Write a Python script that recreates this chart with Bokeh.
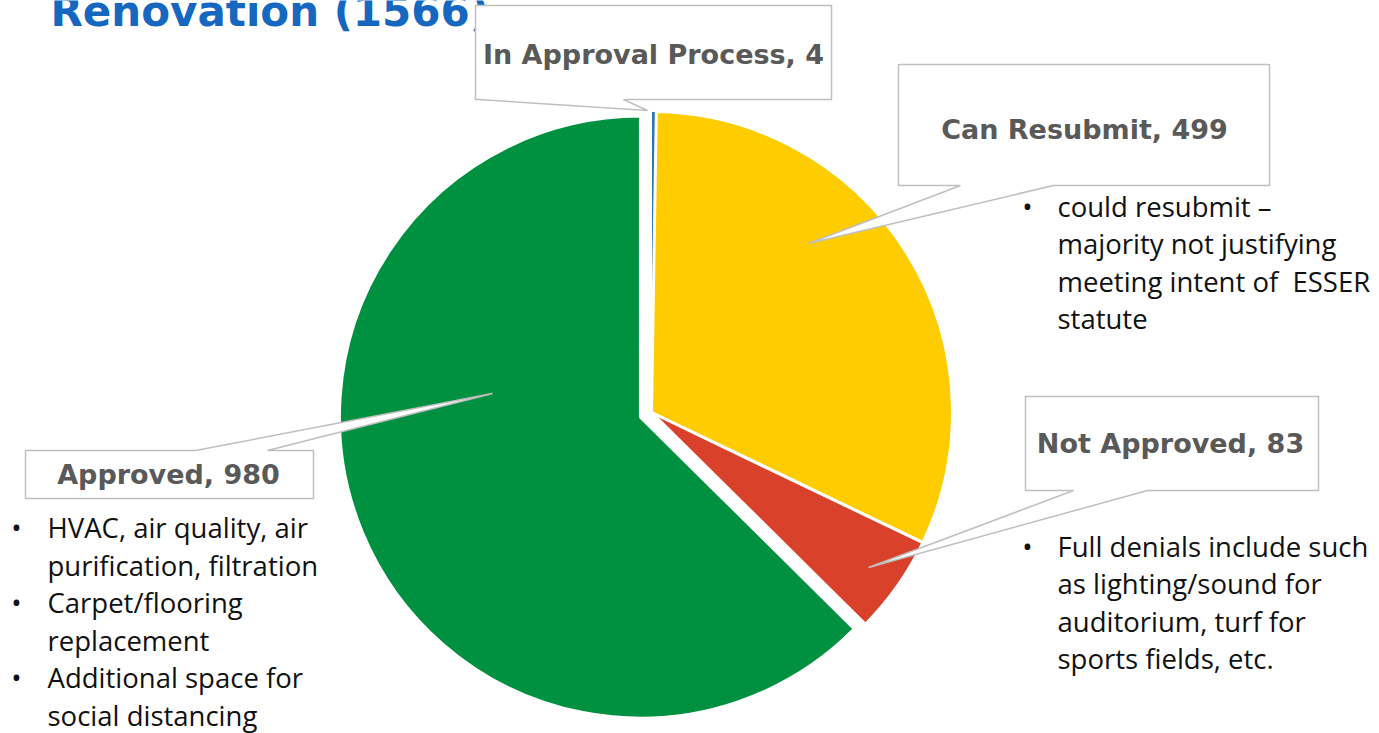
import numpy as np
from bokeh.plotting import figure
from bokeh.models import Range1d, ColumnDataSource
from bokeh.core.properties import value
from bokeh.embed import file_html
from bokeh.resources import INLINE

# ---------------- data ----------------
title = "Renovation (1566)"
categories = ["In Approval Process", "Can Resubmit", "Not Approved", "Approved"]
counts = [4, 499, 83, 980]
colors = ["#2E75B6", "#FFCC00", "#D9412A", "#009140"]
approved_notes = [["HVAC, air quality, air", "purification, filtration"],
                  ["Carpet/flooring", "replacement"],
                  ["Additional space for", "social distancing"]]
resubmit_notes = [["could resubmit \u2013", "majority not justifying",
                   "meeting intent of \u00a0ESSER", "statute"]]
denied_notes = [["Full denials include such", "as lighting/sound for",
                 "auditorium, turf for", "sports fields, etc."]]

# ---------------- layout ----------------
W, H = 1379, 733


def Y(ypix):
    return H - ypix


def TY(ypix, size):
    # baseline correction for the text renderer
    return H - (ypix - 0.36 * size)


p = figure(width=W, height=H,
           x_range=Range1d(0, W), y_range=Range1d(0, H),
           output_backend="svg", toolbar_location=None, min_border=0,
           x_axis_location=None, y_axis_location=None)
p.grid.visible = False
p.outline_line_color = None
p.background_fill_color = "white"
p.border_fill_color = "white"

# ---------------- pie ----------------
cx, cy, R = 651, 412, 301
explode = [0, 0, 0, 12]
stroke = [1, 3, 3, 3]
vals = np.array(counts, dtype=float)
total = vals.sum()
cum = np.concatenate([[0], np.cumsum(vals)])
th_s = 2 * np.pi * cum[:-1] / total
th_e = 2 * np.pi * cum[1:] / total
mid = (th_s + th_e) / 2
ex = np.array(explode, dtype=float)
src = ColumnDataSource(dict(
    x=cx + ex * np.sin(mid),
    y=Y(cy) + ex * np.cos(mid),
    start=np.pi / 2 - th_s,
    end=np.pi / 2 - th_e,
    color=colors,
    lw=stroke,
    cat=categories,
))
p.wedge(x="x", y="y", radius=R, start_angle="start", end_angle="end",
        direction="clock", fill_color="color", line_color="white",
        line_width="lw", source=src)

# ---------------- title ----------------
p.text(x=[50], y=[TY(26, 42)], text=[title], text_font=value("DejaVu Sans"),
       text_font_style="bold", text_font_size="42px", text_color="#1567C0",
       text_align="left", text_baseline="alphabetic")

# ---------------- callouts ----------------
callouts = [
    # box (x0,y0,x1,y1), edge, base a, base b, tip
    ((475, 5, 831, 99), "bottom", 478, 623, (647, 110)),
    ((898, 64, 1269, 185), "bottom", 960, 1053, (808, 243)),
    ((1025, 396, 1318, 490), "bottom", 1073, 1147, (868, 567)),
    ((25, 450, 313, 498), "top", 195, 267, (492, 393)),
]
for (x0, y0, x1, y1), edge, a, b, tip in callouts:
    if edge == "bottom":
        pts = [(x0, y0), (x1, y0), (x1, y1), (b, y1), tip, (a, y1), (x0, y1)]
    else:
        pts = [(x0, y0), (a, y0), tip, (b, y0), (x1, y0), (x1, y1), (x0, y1)]
    p.patch([q[0] for q in pts], [Y(q[1]) for q in pts], fill_color="white",
            line_color="#BFBFBF", line_width=1.5)

label_pos = [(653, 64), (1084, 139), (1170, 453), (168, 484)]
p.text(x=[q[0] for q in label_pos], y=[TY(q[1], 27) for q in label_pos],
       text=[f"{c}, {n}" for c, n in zip(categories, counts)],
       text_font=value("DejaVu Sans"), text_font_style="bold",
       text_font_size="27px", text_color="#595959",
       text_align="center", text_baseline="alphabetic")

# ---------------- bullet notes ----------------
def bullets(items, bx, tx, y0, step=37.5, size=27.5):
    xs, ys, ts, bxs, bys = [], [], [], [], []
    k = 0
    for item in items:
        bxs.append(bx)
        bys.append(TY(y0 + k * step, size))
        for line in item:
            xs.append(tx)
            ys.append(TY(y0 + k * step, size))
            ts.append(line)
            k += 1
    p.text(x=xs, y=ys, text=ts, text_font=value("Open Sans"),
           text_font_size=f"{size}px", text_color="#111111",
           text_align="left", text_baseline="alphabetic")
    p.text(x=bxs, y=bys, text=["\u2022"] * len(bxs), text_font=value("Open Sans"),
           text_font_size=f"{size}px", text_color="#111111",
           text_align="center", text_baseline="alphabetic")


bullets(approved_notes, 16, 47, 537)
bullets(resubmit_notes, 1027, 1057, 215.5)
bullets(denied_notes, 1027, 1057, 555.5)

open("out.html", "w").write(file_html(p, INLINE))
